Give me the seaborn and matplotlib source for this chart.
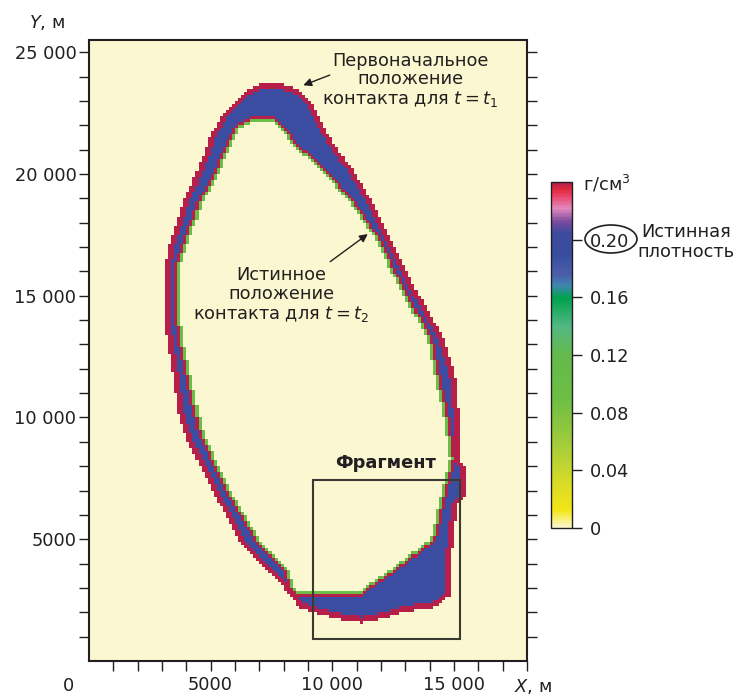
import numpy as np
import pandas as pd
import matplotlib
matplotlib.use("Agg")
import matplotlib.pyplot as plt
import seaborn as sns
from matplotlib.path import Path
from matplotlib.patches import Rectangle, Ellipse
from matplotlib.colors import LinearSegmentedColormap

# Contour of the dense band (m)
outer_x = [7100, 7750, 8550, 9200, 9900, 10850, 11650, 12350, 13050, 13750, 14550,
           15050, 15250, 15300, 15550, 15550, 15150, 14950, 14900, 14850, 14200, 12800,
           12100, 11250, 10050, 9200, 8650, 8250, 7550, 6200, 5100, 4050, 3650, 3450,
           3250, 3100, 3100, 3350, 3850, 4450, 4950, 5600, 6200, 6600]
outer_y = [23750, 23750, 23500, 22900, 21500, 20150, 18800, 17400, 16050, 14700, 13300,
           11800, 9750, 8150, 7850, 6950, 6400, 4950, 3600, 2700, 2200, 1950,
           1750, 1550, 1750, 2000, 2200, 2700, 3550, 4900, 6950, 9000, 10300, 11800,
           12950, 14000, 16050, 17250, 18800, 20150, 21500, 22600, 23200, 23500]

inner_x = [6600, 7650, 7950, 8250, 8900, 9700, 10850, 11850, 12500, 13200, 14000,
           14300, 14750, 14950, 14450, 14150, 13200, 12350, 11450, 11150, 8650, 8250,
           8150, 6900, 5700, 4700, 4350, 4050, 3800, 3650, 3600, 4050, 4550, 5250,
           5900, 6200]
inner_y = [22200, 22200, 21850, 21500, 20850, 20150, 18800, 17400, 16050, 14700, 13300,
           11800, 9750, 8250, 6300, 4950, 4250, 3600, 3000, 2750, 2750, 3000,
           3600, 4950, 7000, 9050, 10300, 11800, 12950, 14000, 16050, 17500, 18800, 20150,
           21600, 22000]

band_density = 0.192
edge_density = 0.24
fringe_density = 0.10
cell = 125
x_max, y_max = 18000, 25500

cbar_ticks = [0, 0.04, 0.08, 0.12, 0.16, 0.20]
cbar_labels = ['0', '0.04', '0.08', '0.12', '0.16', '0.20']
x_labels = {5000: '5000', 10000: '10 000', 15000: '15 000'}
y_labels = {5000: '5000', 10000: '10 000', 15000: '15 000', 20000: '20 000', 25000: '25 000'}
fragment = (9200, 900, 15250, 7450)

# density colour scale (g/cm3)
cmap_stops = [(0.000, '#fbf7d0'), (0.012, '#f4e616'), (0.030, '#d9dc25'),
              (0.045, '#bcd433'), (0.070, '#8dc63f'), (0.090, '#6dbe45'),
              (0.120, '#63ba4b'), (0.140, '#52b884'), (0.160, '#00a14b'),
              (0.168, '#3f86b0'), (0.176, '#4a5ea8'), (0.190, '#394da0'),
              (0.205, '#3d4a9e'), (0.213, '#7a4c9e'), (0.222, '#e389be'),
              (0.230, '#e94a72'), (0.235, '#e2283e'), (0.240, '#b51f4a')]
vmax = 0.24
cmap = LinearSegmentedColormap.from_list('dens', [(v / vmax, c) for v, c in cmap_stops])

sns.set_theme(style='ticks')
plt.rcParams['font.family'] = ['DejaVu Sans']
plt.rcParams['mathtext.fontset'] = 'dejavusans'
plt.rcParams['text.color'] = '#231f20'
fs = 12.8

# raster the band on the model grid
xc = np.arange(cell / 2, x_max, cell)
yc = np.arange(cell / 2, y_max, cell)
XX, YY = np.meshgrid(xc, yc)
pts = np.column_stack([XX.ravel(), YY.ravel()])
in_outer = Path(np.column_stack([outer_x, outer_y])).contains_points(pts).reshape(XX.shape)
in_hole = Path(np.column_stack([inner_x, inner_y])).contains_points(pts).reshape(XX.shape)
band = in_outer & ~in_hole


def touches(mask):
    m = mask.copy()
    m[1:, :] |= mask[:-1, :]
    m[:-1, :] |= mask[1:, :]
    m[:, 1:] |= mask[:, :-1]
    m[:, :-1] |= mask[:, 1:]
    return m


field = np.zeros(XX.shape)
field[band] = band_density
field[band & (touches(touches(~in_outer)) | touches(in_hole))] = edge_density
field[in_hole & touches(band)] = fringe_density
df = pd.DataFrame(field[::-1], index=yc[::-1], columns=xc)

W, H = 739, 697
fig = plt.figure(figsize=(W / 100, H / 100), dpi=100)
pos = [89 / W, 1 - 661 / H, 438 / W, 621 / H]
ax_h = fig.add_axes(pos)
cax = fig.add_axes([551 / W, 1 - 528 / H, 21 / W, 346 / H])

sns.heatmap(df, ax=ax_h, cmap=cmap, vmin=0, vmax=vmax, cbar_ax=cax,
            xticklabels=False, yticklabels=False)
ax_h.axis('off')
cb = ax_h.collections[0].colorbar
cb.outline.set_linewidth(1)
cb.outline.set_edgecolor('#231f20')
cax.set_yticks(cbar_ticks)
cax.set_yticklabels(cbar_labels)
cax.tick_params(axis='y', direction='out', length=7, width=1, pad=6,
                labelsize=fs, colors='#231f20')

# overlay axes in metres
ax = fig.add_axes(pos)
ax.set_facecolor('none')
ax.set_xlim(0, x_max)
ax.set_ylim(0, y_max)
xt = np.arange(1000, 18001, 1000)
yt = np.arange(1000, 25001, 1000)
ax.set_xticks(xt)
ax.set_xticklabels([x_labels.get(v, '') for v in xt])
ax.set_yticks(yt)
ax.set_yticklabels([y_labels.get(v, '') for v in yt])
ax.tick_params(direction='out', length=7, width=1, labelsize=fs, colors='#231f20')
ax.tick_params(axis='y', right=True, labelright=False, pad=2)
ax.tick_params(axis='x', pad=4)
for s in ax.spines.values():
    s.set_linewidth(1.5)
    s.set_color('#231f20')

x0, y0, x1, y1 = fragment
ax.add_patch(Rectangle((x0, y0), x1 - x0, y1 - y0, fill=False, ec='#3a3a32', lw=1.5))
ax.text(12200, 8120, 'Фрагмент', fontsize=fs, weight='bold', ha='center', va='center')

ax.text(13200, 23840, 'Первоначальное\nположение\nконтакта для $t=t_1$', fontsize=fs,
        ha='center', va='center', linespacing=1.05)
ax.annotate('', xy=(8700, 23600), xytext=(10000, 24100),
            arrowprops=dict(arrowstyle='-|>', color='#231f20', lw=1, mutation_scale=12))
ax.text(7890, 15020, 'Истинное\nположение\nконтакта для $t=t_2$', fontsize=fs,
        ha='center', va='center', linespacing=1.05)
ax.annotate('', xy=(11550, 17600), xytext=(9820, 16330),
            arrowprops=dict(arrowstyle='-|>', color='#231f20', lw=1, mutation_scale=12))

fig.text(69 / W, 1 - 686 / H, '0', fontsize=fs, ha='center', va='center')
fig.text(533 / W, 1 - 686 / H, '$X$, м', fontsize=fs, ha='center', va='center')
fig.text(47 / W, 1 - 23 / H, '$Y$, м', fontsize=fs, ha='center', va='center')
fig.text(583 / W, 1 - 184 / H, 'г/см$^3$', fontsize=fs, ha='left', va='center')
fig.text(686 / W, 1 - 242 / H, 'Истинная\nплотность', fontsize=fs, ha='center',
         va='center', linespacing=1.15)
fig.add_artist(Ellipse((611 / W, 1 - 239 / H), 52 / W, 28 / H, transform=fig.transFigure,
                       fill=False, ec='#231f20', lw=1.2))

fig.savefig('out.png', dpi=100)
